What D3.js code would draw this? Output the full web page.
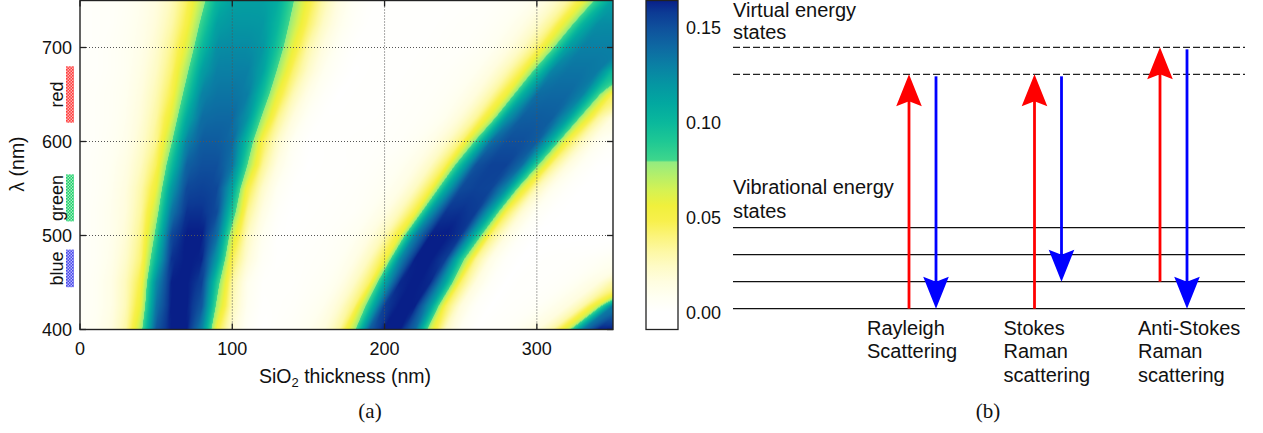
<!DOCTYPE html>
<html><head><meta charset="utf-8">
<script src="https://cdn.jsdelivr.net/npm/d3@7"></script>
<style>body{margin:0;background:#fff}svg{display:block}</style>
</head><body>
<svg id="chart" width="1263" height="433"></svg>
<script>
// ---------------- DATA (panel a) ----------------
const thickness = [0,10,20,30,40,50,60,70,80,90,100,110,120,130,140,150,160,170,180,190,200,210,220,230,240,250,260,270,280,290,300,310,320,330,340,350];
const wavelength = [400,425,450,475,500,525,550,575,600,625,650,675,700,725,750];
const contrast = [
 [.005,.008,.015,.031,.073,.147,.165,.165,.129,.050,.019,.005,0,.003,.005,.009,.016,.032,.073,.144,.165,.165,.140,.065,.024,.007,.001,.003,.005,.010,.016,.031,.065,.133,.164,.165],
 [.004,.007,.013,.027,.058,.135,.165,.165,.147,.073,.027,.008,.001,.002,.003,.006,.010,.020,.039,.093,.157,.165,.164,.119,.046,.017,.004,0,.002,.003,.005,.010,.016,.031,.065,.133],
 [.004,.007,.013,.026,.050,.125,.164,.165,.156,.089,.032,.010,.002,.002,.002,.004,.006,.011,.023,.044,.111,.162,.165,.162,.111,.043,.016,.004,0,.002,.002,.003,.005,.010,.016,.031],
 [.003,.006,.011,.022,.041,.102,.160,.165,.163,.117,.046,.019,.005,.001,.002,.003,.004,.007,.013,.026,.050,.125,.164,.165,.157,.093,.036,.013,.003,0,.001,.002,.002,.003,.005,.008],
 [.003,.006,.010,.019,.037,.085,.153,.165,.165,.138,.065,.025,.008,.001,.001,.002,.003,.005,.008,.015,.028,.056,.129,.164,.165,.159,.100,.040,.016,.004,0,0,0,0,0,0],
 [.003,.006,.010,.017,.033,.070,.134,.160,.160,.152,.092,.036,.014,.003,0,.001,.002,.003,.004,.008,.014,.027,.050,.118,.159,.160,.157,.110,.047,.020,.006,.001,0,0,0,0],
 [.003,.005,.009,.016,.030,.056,.117,.153,.155,.153,.113,.050,.022,.007,.001,.001,.001,.002,.003,.005,.008,.013,.025,.048,.107,.152,.155,.154,.124,.062,.027,.010,.003,0,0,0],
 [.003,.005,.008,.014,.025,.045,.096,.143,.150,.150,.135,.079,.035,.014,.004,0,.001,.001,.002,.003,.005,.008,.013,.024,.045,.099,.149,.155,.155,.139,.084,.038,.017,.006,.001,0],
 [.003,.004,.007,.011,.021,.036,.077,.129,.145,.145,.140,.098,.047,.022,.007,.001,.001,.001,.002,.002,.003,.004,.007,.012,.022,.040,.084,.138,.150,.150,.145,.103,.050,.025,.009,.003],
 [.003,.004,.006,.010,.018,.032,.060,.109,.138,.140,.140,.121,.074,.036,.016,.005,.001,.001,.001,.001,.002,.003,.004,.006,.010,.019,.034,.065,.120,.144,.145,.144,.118,.069,.034,.015],
 [.003,.004,.006,.009,.016,.028,.048,.090,.129,.135,.135,.131,.098,.055,.028,.012,.004,0,.001,.001,.001,.002,.003,.004,.006,.010,.017,.031,.055,.104,.138,.140,.140,.129,.085,.044],
 [.003,.003,.005,.008,.014,.024,.041,.075,.115,.130,.130,.130,.114,.076,.042,.022,.009,.003,0,.001,.001,.001,.002,.003,.004,.006,.009,.016,.028,.048,.090,.129,.135,.135,.132,.099],
 [.002,.003,.005,.008,.012,.021,.036,.061,.099,.124,.125,.125,.120,.092,.057,.030,.015,.006,.001,.001,.001,.001,.001,.002,.003,.003,.005,.008,.014,.024,.041,.075,.115,.130,.130,.130],
 [.002,.003,.004,.007,.011,.018,.030,.050,.085,.115,.120,.120,.119,.101,.071,.043,.023,.011,.004,.001,.001,.001,.001,.001,.002,.003,.003,.005,.008,.013,.022,.037,.065,.103,.124,.125],
 [.002,.003,.004,.006,.010,.016,.026,.044,.072,.103,.114,.115,.115,.107,.081,.052,.030,.015,.006,.002,.001,.001,.001,.001,.001,.002,.002,.003,.005,.007,.011,.020,.032,.054,.088,.115]
];
const xTicks = [0,100,200,300];
const yTicks = [400,500,600,700];
const cbTicks = [0.00,0.05,0.10,0.15];
const bandNames = ["red","green","blue"];
const bandLow = [620,515,445];
const bandHigh = [680,565,485];
const cmapValues = [-0.0092,0,0.008,0.016,0.024,0.032,0.040,0.048,0.056,0.064,0.072,0.079,0.080,0.090,0.100,0.110,0.120,0.130,0.140,0.150,0.158,0.1642];
const cmapColors = ["#ffffff","#ffffff","#fffff2","#fffde0","#fefbc6","#fdf8a4","#fbf47a","#f8f04c","#f0f03c","#d6f252","#b4ef6a","#94ec80","#3ed68c","#1ec894","#0ab89c","#02a8a0","#0596a2","#0a80a4","#0e68a2","#0f509c","#0c3a94","#081f88"];

// ---------------- DATA (panel b) ----------------
const vibLevels = [0,1,2,3];
const virtLevels = [8.68,9.68];
const processes = ["Rayleigh","Stokes","Anti-Stokes"];
const processLabels = [["Rayleigh","Scattering"],["Stokes","Raman","scattering"],["Anti-Stokes","Raman","scattering"]];
const exciteFrom = [0,0,1];
const exciteTo = [8.68,8.68,9.68];
const emitFrom = [8.68,8.68,9.68];
const emitTo = [0,1,0];

// ---------------- LAYOUT ----------------
const FONT = "'Liberation Sans', Arial, Helvetica, sans-serif";
const svg = d3.select("#chart");
const x = d3.scaleLinear().domain([0,350]).range([80,613]);
const y = d3.scaleLinear().domain([400,750]).range([329.5,0.5]);
const color = d3.scaleLinear().domain(cmapValues).range(cmapColors).interpolate(d3.interpolateRgb).clamp(true);

// heatmap raster: display smoothing of the read grid, following the band drift between rows
(function(){
  const nT = thickness.length, tMin = thickness[0], tMax = thickness[nT-1];
  function rowAt(row, t){
    if (t <= tMin) return row[0];
    if (t >= tMax) return row[nT-1];
    let i = d3.bisectRight(thickness, t) - 1; i = Math.min(nT-2, Math.max(0,i));
    const f = (t - thickness[i])/(thickness[i+1]-thickness[i]);
    return row[i]*(1-f) + row[i+1]*f;
  }
  const drift = [];
  for (let j=0; j<wavelength.length-1; j++){
    const A = contrast[j], B = contrast[j+1];
    let d = thickness.map(t0=>{
      let best = 0, bestE = Infinity;
      for (let s=-10; s<=40; s+=0.5){
        let E=0, n=0;
        for (let u=t0-35; u<=t0+35; u+=2.5){
          if (u<tMin||u>tMax||u+s<tMin||u+s>tMax) continue;
          const df = rowAt(A,u)-rowAt(B,u+s); E += df*df; n++;
        }
        if (n<8) continue;
        E = E/n + 1e-9*s*s;
        if (E<bestE){ bestE=E; best=s; }
      }
      return best;
    });
    d = d.map((v,i)=>{ const a=d[Math.max(0,i-1)], c=d[Math.min(nT-1,i+1)]; return (a+2*v+c)/4; });
    drift.push(d);
  }
  const x0 = x(tMin), y0 = y(750);
  const W = Math.round(x(tMax)-x0), H = Math.round(y(400)-y0);
  const cv = document.createElement("canvas"); cv.width = W; cv.height = H;
  const ctx = cv.getContext("2d"); const img = ctx.createImageData(W,H);
  const vmin = cmapValues[0], vmax = cmapValues[cmapValues.length-1], N = 1500, lut = [];
  for (let k=0;k<=N;k++){ const c = d3.rgb(color(vmin + (vmax-vmin)*k/N)); lut.push([c.r,c.g,c.b]); }
  for (let py=0; py<H; py++){
    const lam = y.invert(y0+py+0.5);
    let j = d3.bisectRight(wavelength, lam) - 1; j = Math.max(0, Math.min(wavelength.length-2, j));
    let fy = (lam - wavelength[j])/(wavelength[j+1]-wavelength[j]); fy = Math.max(0, Math.min(1, fy));
    const A = contrast[j], B = contrast[j+1], D = drift[j];
    for (let px=0; px<W; px++){
      const t = x.invert(x0+px+0.5);
      const s = rowAt(D, t);
      const v = rowAt(A, t - fy*s)*(1-fy) + rowAt(B, t + (1-fy)*s)*fy;
      let k = Math.round((v-vmin)/(vmax-vmin)*N); k = Math.max(0, Math.min(N,k));
      const o = (py*W+px)*4; img.data[o]=lut[k][0]; img.data[o+1]=lut[k][1]; img.data[o+2]=lut[k][2]; img.data[o+3]=255;
    }
  }
  ctx.putImageData(img,0,0);
  svg.append("image").attr("x",x0).attr("y",y0).attr("width",W).attr("height",H)
    .attr("preserveAspectRatio","none").attr("href", cv.toDataURL());
})();

// grid lines
const grid = svg.append("g").attr("stroke","#555").attr("stroke-width",1).attr("stroke-dasharray","1,2");
grid.selectAll("line.vx").data(xTicks.filter(d=>d>0)).join("line")
  .attr("x1",d=>x(d)).attr("x2",d=>x(d)).attr("y1",y(750)).attr("y2",y(400));
grid.selectAll("line.hy").data(yTicks.filter(d=>d>400)).join("line")
  .attr("x1",x(0)).attr("x2",x(350)).attr("y1",d=>y(d)).attr("y2",d=>y(d));

// inward ticks on all sides
const tk = svg.append("g").attr("stroke","#222").attr("stroke-width",1.3);
xTicks.forEach(d=>{ tk.append("line").attr("x1",x(d)).attr("x2",x(d)).attr("y1",y(400)).attr("y2",y(400)-6);
                    tk.append("line").attr("x1",x(d)).attr("x2",x(d)).attr("y1",y(750)).attr("y2",y(750)+6); });
yTicks.forEach(d=>{ tk.append("line").attr("x1",x(0)).attr("x2",x(0)+6).attr("y1",y(d)).attr("y2",y(d));
                    tk.append("line").attr("x1",x(350)).attr("x2",x(350)-6).attr("y1",y(d)).attr("y2",y(d)); });
svg.append("rect").attr("x",x(0)).attr("y",y(750)).attr("width",x(350)-x(0)).attr("height",y(400)-y(750))
  .attr("fill","none").attr("stroke","#222").attr("stroke-width",1.4);

// tick labels
svg.append("g").selectAll("text").data(xTicks).join("text")
  .attr("x",d=>x(d)).attr("y",355).attr("text-anchor","middle")
  .attr("font-family",FONT).attr("font-size",18).attr("fill","#111").text(d=>d);
svg.append("g").selectAll("text").data(yTicks).join("text")
  .attr("x",72).attr("y",d=>y(d)).attr("dy","0.36em").attr("text-anchor","end")
  .attr("font-family",FONT).attr("font-size",18).attr("fill","#111").text(d=>d);

// axis titles
const xt = svg.append("text").attr("x",345).attr("y",383).attr("text-anchor","middle")
  .attr("font-family",FONT).attr("font-size",19.5).attr("fill","#111");
xt.append("tspan").text("SiO");
xt.append("tspan").attr("font-size",13).attr("dy",4).text("2");
xt.append("tspan").attr("dy",-4).text(" thickness (nm)");
svg.append("text").attr("transform","translate(24,164) rotate(-90)").attr("text-anchor","middle")
  .attr("font-family",FONT).attr("font-size",19.5).attr("fill","#111").text("λ (nm)");

// colour band markers
const defs = svg.append("defs");
const bandCols = ["#ff3d3d","#1fcf6a","#4a4ae8"];
const bandTints = ["#ffb3b3","#a6efc5","#b8b8ff"];
bandNames.forEach((n,i)=>{
  const p = defs.append("pattern").attr("id","pat"+i).attr("width",3).attr("height",3).attr("patternUnits","userSpaceOnUse");
  p.append("rect").attr("width",3).attr("height",3).attr("fill",bandTints[i]);
  p.append("rect").attr("width",1.6).attr("height",1.6).attr("fill",bandCols[i]);
  p.append("rect").attr("x",1.5).attr("y",1.5).attr("width",1.5).attr("height",1.5).attr("fill",bandCols[i]);
});
svg.append("g").selectAll("rect").data(bandNames).join("rect")
  .attr("x",66).attr("width",8).attr("y",(d,i)=>y(bandHigh[i])).attr("height",(d,i)=>y(bandLow[i])-y(bandHigh[i]))
  .attr("fill",(d,i)=>`url(#pat${i})`);
svg.append("g").selectAll("text").data(bandNames).join("text")
  .attr("transform",(d,i)=>`translate(63,${y((bandLow[i]+bandHigh[i])/2)}) rotate(-90)`)
  .attr("text-anchor","middle").attr("font-family",FONT).attr("font-size",18).attr("fill","#111").text(d=>d);

// colour bar
const cb = d3.scaleLinear().domain([cmapValues[0], cmapValues[cmapValues.length-1]]).range([329.5,0.5]);
const grad = defs.append("linearGradient").attr("id","cbgrad").attr("x1",0).attr("x2",0).attr("y1",1).attr("y2",0);
cmapValues.forEach((v,i)=>grad.append("stop")
  .attr("offset",(v-cmapValues[0])/(cmapValues[cmapValues.length-1]-cmapValues[0])).attr("stop-color",cmapColors[i]));
svg.append("rect").attr("x",646).attr("y",cb.range()[1]).attr("width",32).attr("height",cb.range()[0]-cb.range()[1])
  .attr("fill","url(#cbgrad)").attr("stroke","#222").attr("stroke-width",1.3);
cbTicks.forEach(d=>{
  tk.append("line").attr("x1",646).attr("x2",650).attr("y1",cb(d)).attr("y2",cb(d));
  tk.append("line").attr("x1",678).attr("x2",674).attr("y1",cb(d)).attr("y2",cb(d));
});
svg.append("g").selectAll("text").data(cbTicks).join("text")
  .attr("x",686).attr("y",d=>cb(d)).attr("dy","0.36em")
  .attr("font-family",FONT).attr("font-size",18).attr("fill","#111").text(d=>d.toFixed(2));

// panel captions
svg.append("text").attr("x",370).attr("y",418).attr("text-anchor","middle")
  .attr("font-family","'Liberation Serif','DejaVu Serif',serif").attr("font-size",21).attr("fill","#111").text("(a)");
svg.append("text").attr("x",988).attr("y",418).attr("text-anchor","middle")
  .attr("font-family","'Liberation Serif','DejaVu Serif',serif").attr("font-size",21).attr("fill","#111").text("(b)");

// ---------------- PANEL b ----------------
const eY = d3.scaleLinear().domain([0,10]).range([308.7,38.7]);
const px = d3.scalePoint().domain(processes).range([909,1160]);
const LX0 = 733, LX1 = 1245, EMIT_DX = 27;
svg.append("g").selectAll("line").data(vibLevels).join("line")
  .attr("x1",LX0).attr("x2",LX1).attr("y1",d=>eY(d)).attr("y2",d=>eY(d))
  .attr("stroke","#111").attr("stroke-width",1.3);
svg.append("g").selectAll("line").data(virtLevels).join("line")
  .attr("x1",LX0).attr("x2",LX1).attr("y1",d=>eY(d)).attr("y2",d=>eY(d))
  .attr("stroke","#222").attr("stroke-width",1.2).attr("stroke-dasharray","7,3");

const tb = svg.append("g").attr("font-family",FONT).attr("font-size",20).attr("fill","#111");
tb.append("text").attr("x",LX0).attr("y",17).text("Virtual energy");
tb.append("text").attr("x",LX0).attr("y",39).text("states");
tb.append("text").attr("x",LX0).attr("y",194).text("Vibrational energy");
tb.append("text").attr("x",LX0).attr("y",217.5).text("states");

function arrow(xp, yFrom, yTo, col){
  const dir = yTo < yFrom ? 1 : -1; // 1 = up
  const HL = 32, HW = 12.8, NOTCH = 5;
  svg.append("line").attr("x1",xp).attr("x2",xp).attr("y1",yFrom).attr("y2",yTo + dir*(HL-NOTCH-1))
    .attr("stroke",col).attr("stroke-width",2.8);
  svg.append("path").attr("fill",col)
    .attr("d",`M${xp},${yTo} L${xp-HW},${yTo+dir*HL} L${xp},${yTo+dir*(HL-NOTCH)} L${xp+HW},${yTo+dir*HL} Z`);
}
processes.forEach((p,i)=>{
  arrow(px(p), eY(exciteFrom[i]), eY(exciteTo[i]), "#ff0000");
  arrow(px(p)+EMIT_DX, eY(emitFrom[i])+2, eY(emitTo[i]), "#0000ff");
});
const labelDX = [-42,-31,-22];
processes.forEach((p,i)=>{
  processLabels[i].forEach((s,k)=>{
    tb.append("text").attr("x",px(p)+labelDX[i]).attr("y",334.5+k*23.5).text(s);
  });
});
</script>
</body></html>
